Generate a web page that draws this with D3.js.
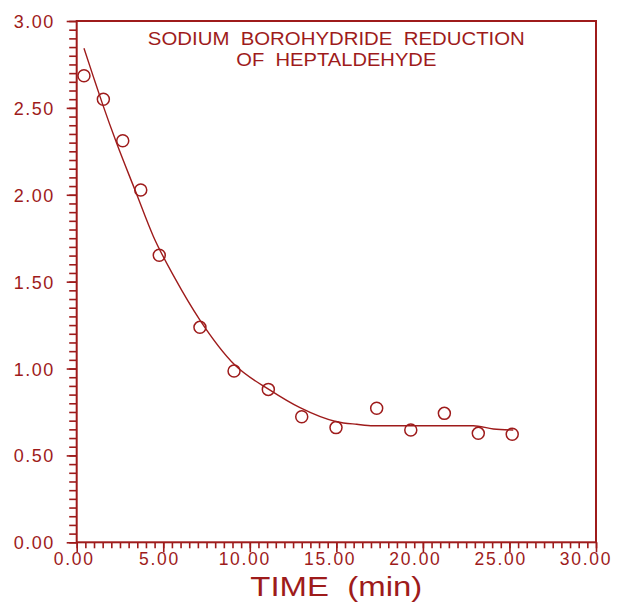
<!DOCTYPE html>
<html><head><meta charset="utf-8">
<script src="https://cdn.jsdelivr.net/npm/d3@7"></script>
<style>body{margin:0;background:#fff}</style></head>
<body>
<svg id="c" width="623" height="603"></svg>
<script>
// observed points
const timeMin = [0.42, 1.54, 2.66, 3.70, 4.77, 7.12, 9.09, 11.07, 13.0, 14.98, 17.33, 19.30, 21.24, 23.2, 25.16];
const conc    = [2.685, 2.55, 2.311, 2.027, 1.652, 1.237, 0.986, 0.880, 0.723, 0.660, 0.771, 0.646, 0.742, 0.627, 0.622];
// fitted curve
const fitTime = [0.42, 0.96, 1.48, 2.31, 3.37, 4.43, 5.68, 7.12, 9.14, 11.17, 12.9, 15.02, 16.18, 17.13, 19.06, 22.91, 24.07, 25.22];
const fitConc = [2.843, 2.68, 2.526, 2.296, 2.027, 1.76, 1.519, 1.279, 1.020, 0.876, 0.775, 0.694, 0.679, 0.671, 0.671, 0.671, 0.652, 0.646];
const xMajor = [0, 5, 10, 15, 20, 25, 30];
const yMajor = [0, 0.5, 1.0, 1.5, 2.0, 2.5, 3.0];
const titleLines = ["SODIUM  BOROHYDRIDE  REDUCTION", "OF  HEPTALDEHYDE"];
const xTitle = "TIME  (min)";

const col = "#9e1b1b";
const L = 76.7, T = 21, R = 596, B = 542.3;
const svg = d3.select("#c");
const x = d3.scaleLinear().domain([0, 30]).range([L, R]);
const y = d3.scaleLinear().domain([0, 3]).range([B, T]);

const xMinor = d3.range(0, 30.001, 0.5);
const yMinor = d3.range(0, 3.001, 0.05);

function styleAxis(g){
  g.select(".domain").remove();
  g.selectAll("line").attr("stroke", col).attr("stroke-width", 1.6);
}
svg.append("g").attr("transform", `translate(${L},0)`)
  .call(d3.axisLeft(y).tickValues(yMinor).tickSize(7.5).tickFormat(""))
  .call(styleAxis);
svg.append("g").attr("transform", `translate(0,${B})`)
  .call(d3.axisBottom(x).tickValues(xMinor).tickSize(6).tickFormat(""))
  .call(styleAxis);

const gy = svg.append("g").attr("transform", `translate(${L},0)`)
  .call(d3.axisLeft(y).tickValues(yMajor).tickSize(10).tickPadding(12).tickFormat(d3.format(".2f")))
  .call(styleAxis);
gy.selectAll("text").attr("fill", col).attr("font-family", "Liberation Sans, Arial, sans-serif")
  .attr("font-size", 18).attr("letter-spacing", 1.5).attr("dy", "0.36em");

const gx = svg.append("g").attr("transform", `translate(0,${B})`)
  .call(d3.axisBottom(x).tickValues(xMajor).tickSize(10).tickFormat(d3.format(".2f")))
  .call(styleAxis);
gx.selectAll("text").attr("fill", col).attr("font-family", "Liberation Sans, Arial, sans-serif")
  .attr("font-size", 17.5).attr("letter-spacing", 1.7).attr("y", 23).attr("dy", 0).attr("dx", d => -3 - d * 0.25);

// frame
svg.append("rect").attr("x", L).attr("y", T).attr("width", R - L).attr("height", B - T)
  .attr("fill", "none").attr("stroke", col).attr("stroke-width", 2);

// title
svg.append("g").selectAll("text").data(titleLines).join("text")
  .attr("x", (L + R) / 2).attr("y", (d, i) => 45 + i * 21)
  .attr("text-anchor", "middle").attr("fill", col)
  .attr("font-family", "Liberation Sans, Arial, sans-serif").attr("font-size", 18.5)
  .style("white-space", "pre")
  .attr("textLength", (d, i) => i === 0 ? 377 : 200).attr("lengthAdjust", "spacingAndGlyphs")
  .text(d => d);

// x title
svg.append("text").attr("x", (L + R) / 2).attr("y", 596).attr("text-anchor", "middle")
  .attr("fill", col).attr("font-family", "Liberation Sans, Arial, sans-serif").attr("font-size", 27)
  .attr("textLength", 172).attr("lengthAdjust", "spacingAndGlyphs")
  .style("white-space", "pre").text(xTitle);

// fitted curve
const fit = fitTime.map((t, i) => [t, fitConc[i]]);
svg.append("path").datum(fit)
  .attr("fill", "none").attr("stroke", col).attr("stroke-width", 1.4)
  .attr("d", d3.line().x(d => x(d[0])).y(d => y(d[1])).curve(d3.curveMonotoneX));

// points
svg.append("g").selectAll("circle").data(timeMin.map((t, i) => [t, conc[i]])).join("circle")
  .attr("cx", d => x(d[0])).attr("cy", d => y(d[1])).attr("r", 6)
  .attr("fill", "none").attr("stroke", col).attr("stroke-width", 1.5);
</script>
</body></html>
